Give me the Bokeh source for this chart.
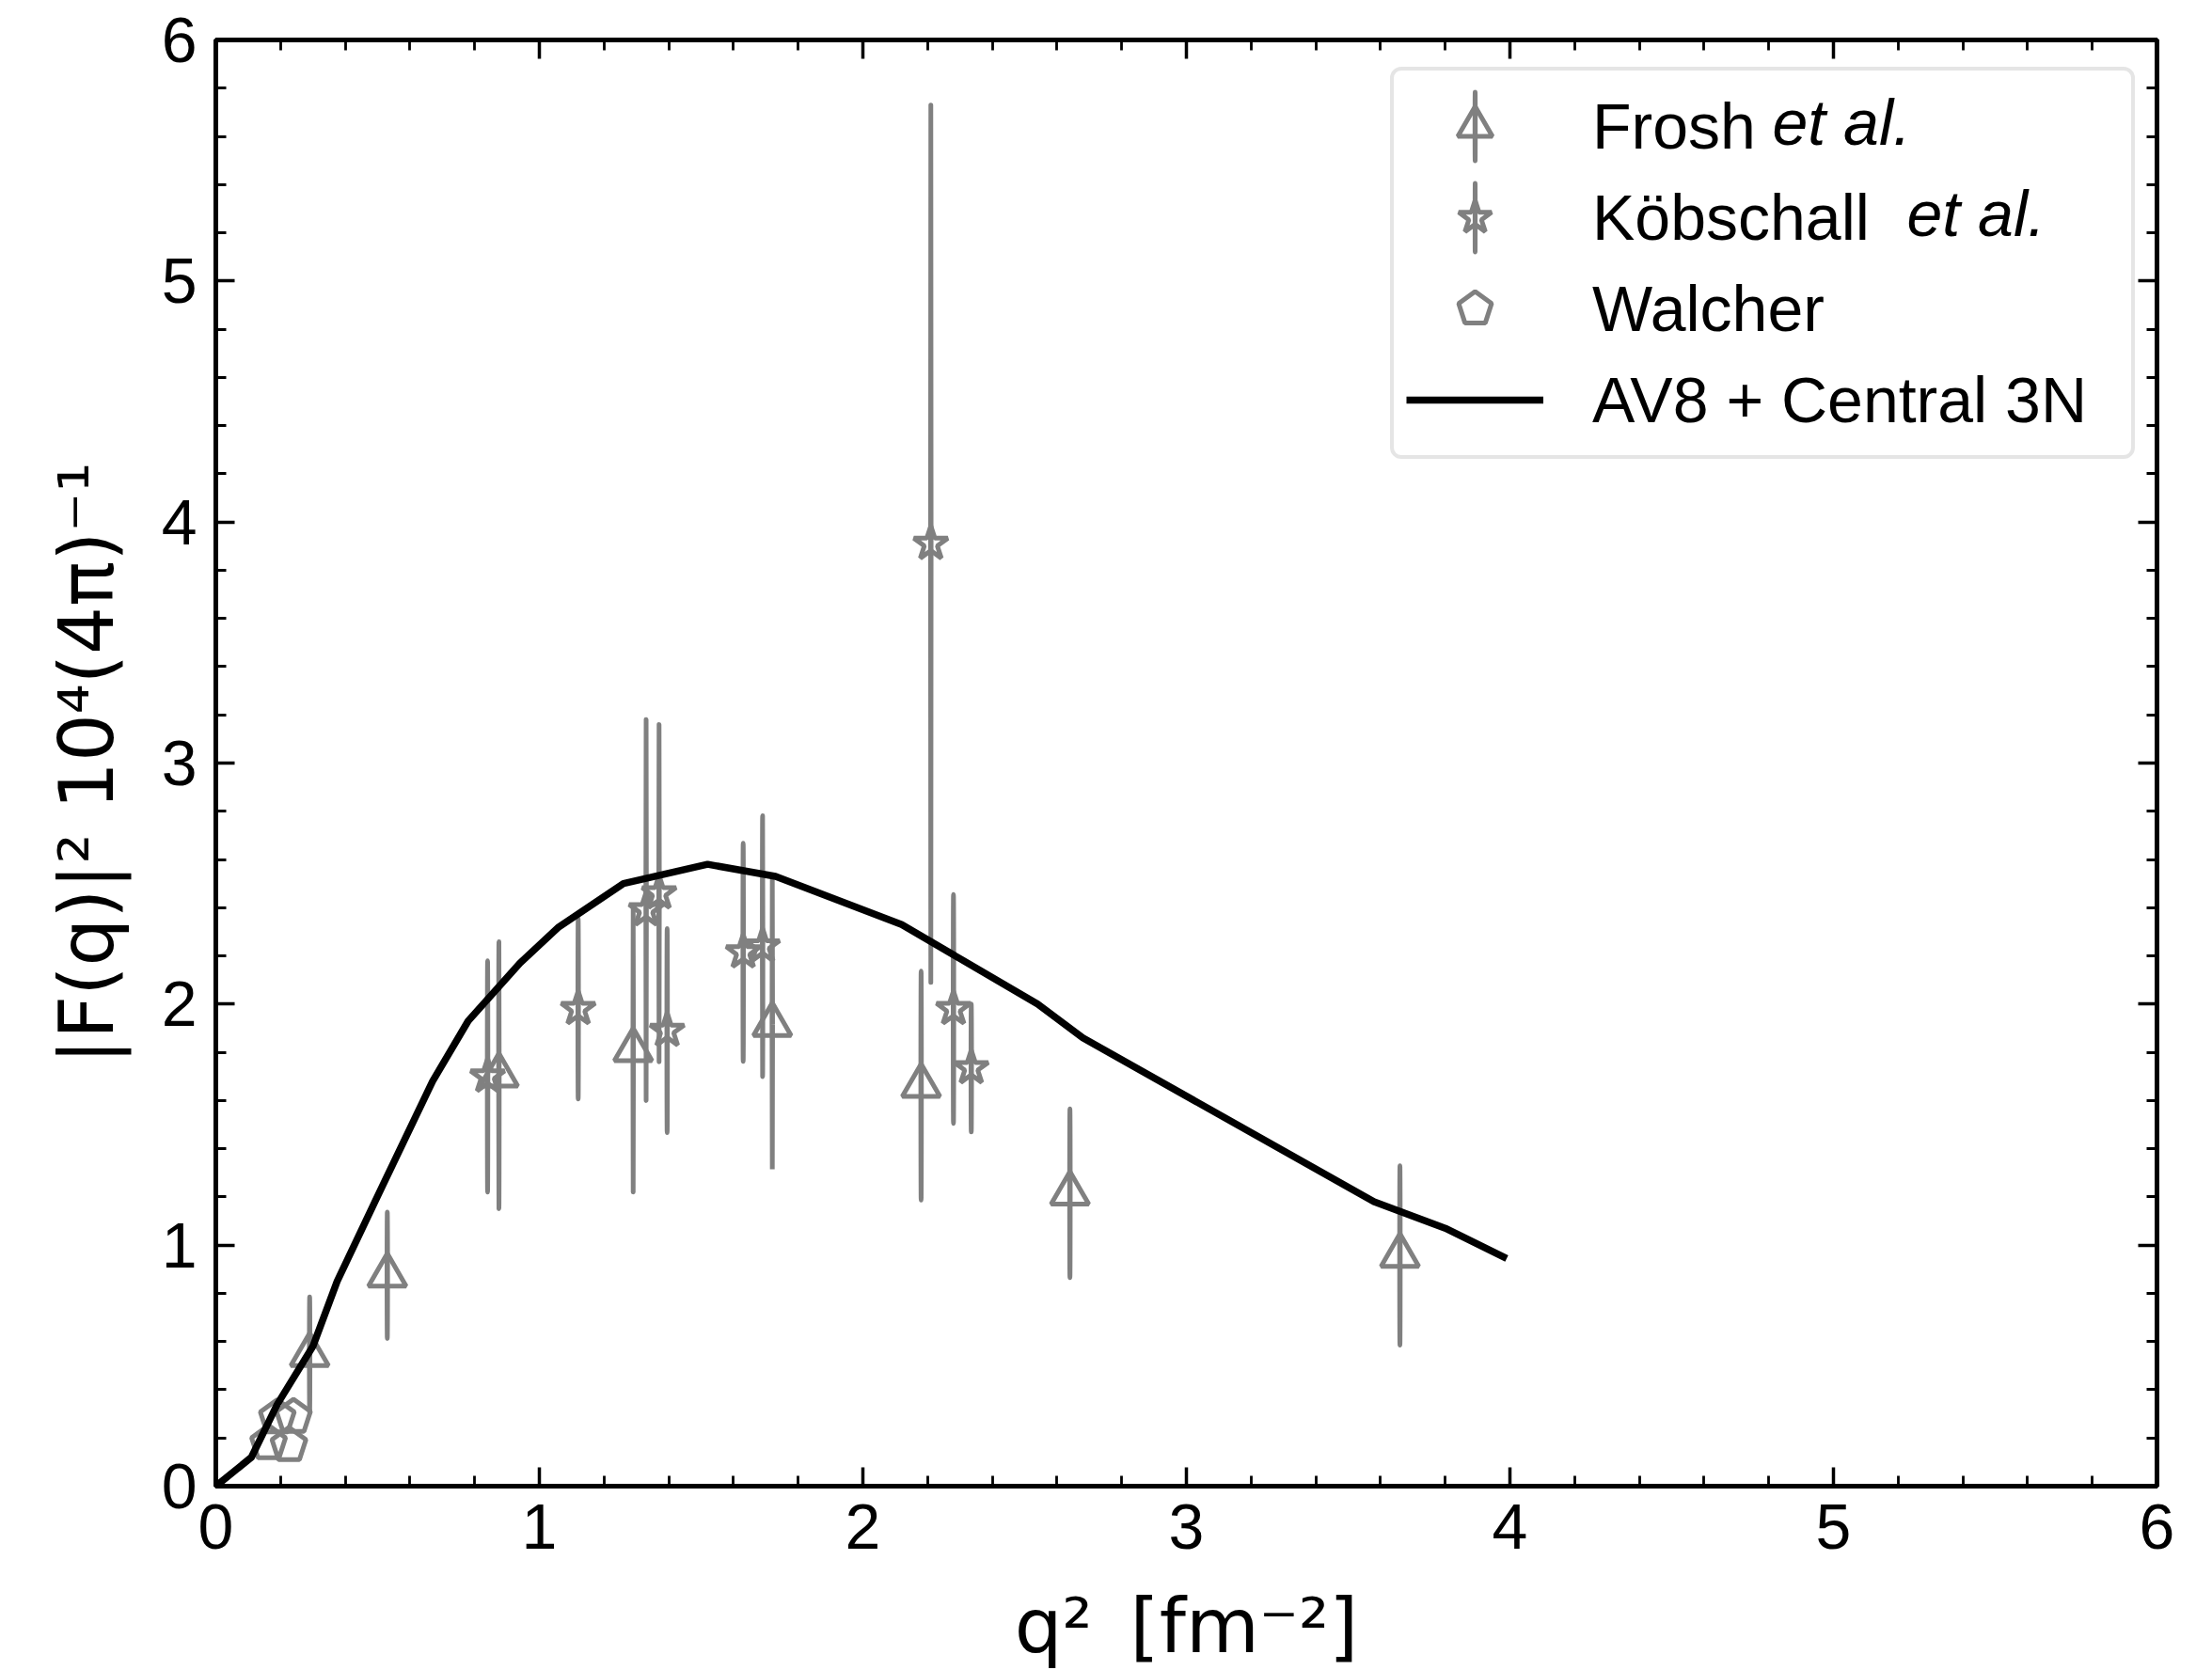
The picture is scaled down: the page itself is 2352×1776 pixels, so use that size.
import math
from bokeh.plotting import figure
from bokeh.models import (Range1d, FixedTicker, LinearAxis, Legend, LegendItem,
                          Label, ColumnDataSource)
from bokeh.embed import file_html
from bokeh.resources import INLINE

# ---------------- data ----------------
frosh_q2 = [0.29, 0.53, 0.875, 1.29, 1.72, 2.18, 2.64, 3.66]
frosh_F = [0.545, 0.875, 1.705, 1.81, 1.915, 1.662, 1.215, 0.957]
frosh_err = [0.24, 0.265, 0.56, 0.59, 0.60, 0.475, 0.35, 0.372]

kob_q2 = [0.84, 1.12, 1.33, 1.37, 1.395, 1.63, 1.69, 2.21, 2.28, 2.335]
kob_F = [1.70, 1.98, 2.39, 2.46, 1.89, 2.215, 2.24, 3.91, 1.98, 1.735]
kob_err = [0.485, 0.38, 0.79, 0.70, 0.43, 0.46, 0.55, 1.82, 0.475, 0.265]

walcher_q2 = [0.163, 0.19, 0.226, 0.24]
walcher_F = [0.178, 0.285, 0.17, 0.287]

av8_q2 = [0, 0.11, 0.19, 0.30, 0.375, 0.52, 0.67, 0.78, 0.94, 1.06, 1.26,
          1.52, 1.73, 2.12, 2.54, 2.68, 3.58, 3.80, 3.99]
av8_F = [0, 0.12, 0.34, 0.58, 0.85, 1.26, 1.68, 1.93, 2.17, 2.32, 2.50,
         2.58, 2.53, 2.33, 2.00, 1.86, 1.18, 1.07, 0.945]

x_ticks = [0, 1, 2, 3, 4, 5, 6]
y_ticks = [0, 1, 2, 3, 4, 5, 6]
x_tick_labels = ["0", "1", "2", "3", "4", "5", "6"]
y_tick_labels = ["0", "1", "2", "3", "4", "5", "6"]
minor_ticks = [i / 5 for i in range(31)]

x_title = "q²\u2002[fm⁻²]"
y_title = "|F(q)|² 10⁴(4π)⁻¹"
legend_labels = ["Frosh", "Köbschall", "Walcher", "AV8 + Central 3N"]
legend_italic = ["et al.", "et al.", None, None]

GRAY = "#808080"
TICK_FONT = "Liberation Sans"
TITLE_FONT = "DejaVu Sans"

# ---------------- figure ----------------
p = figure(frame_width=2064, frame_height=1538,
           x_range=Range1d(0, 6), y_range=Range1d(0, 6),
           output_backend="svg", toolbar_location=None,
           min_border_left=229, min_border_right=59,
           min_border_top=42, min_border_bottom=196,
           background_fill_color="white", border_fill_color="white")
p.grid.visible = False
p.outline_line_color = "black"
p.outline_line_width = 5


def style_axis(ax, ticks, labels, show, standoff):
    ax.ticker = FixedTicker(ticks=ticks, minor_ticks=minor_ticks)
    ax.axis_line_width = 5
    ax.axis_line_color = "black"
    ax.major_tick_in = 20
    ax.major_tick_out = 0
    ax.minor_tick_in = 11
    ax.minor_tick_out = 0
    ax.major_tick_line_width = 3.5
    ax.minor_tick_line_width = 2.8
    ax.major_tick_line_color = "black"
    ax.minor_tick_line_color = "black"
    if show:
        ax.major_label_overrides = {t: l for t, l in zip(ticks, labels)}
        ax.major_label_text_font = TICK_FONT
        ax.major_label_text_font_size = "68px"
        ax.major_label_text_color = "black"
        ax.major_label_standoff = standoff
    else:
        ax.axis_label = None
        ax.major_label_overrides = {t: "" for t in ticks}
        ax.major_label_text_font_size = "0px"
        ax.major_label_standoff = 0


def style_title(ax, text, standoff):
    ax.axis_label = text
    ax.axis_label_text_font = TITLE_FONT
    ax.axis_label_text_font_size = "80px"
    ax.axis_label_text_font_style = "normal"
    ax.axis_label_text_color = "black"
    ax.axis_label_standoff = standoff


style_axis(p.xaxis[0], x_ticks, x_tick_labels, True, 19)
style_axis(p.yaxis[0], y_ticks, y_tick_labels, True, 20)
style_title(p.xaxis[0], x_title, 33)
style_title(p.yaxis[0], y_title, 30)

ax_top = LinearAxis()
style_axis(ax_top, x_ticks, x_tick_labels, False, 0)
p.add_layout(ax_top, "above")
ax_right = LinearAxis()
style_axis(ax_right, y_ticks, y_tick_labels, False, 0)
p.add_layout(ax_right, "right")

# ---------------- data glyphs ----------------
fsrc = ColumnDataSource(dict(x=frosh_q2, y=frosh_F, h=[2 * e for e in frosh_err]))
ksrc = ColumnDataSource(dict(x=kob_q2, y=kob_F, h=[2 * e for e in kob_err]))
wsrc = ColumnDataSource(dict(x=walcher_q2, y=walcher_F))

LW = 5
bar_kw = dict(width=0.6, width_units="screen", height="h", height_units="data",
              fill_color=None, line_color=GRAY, line_width=LW)
r_fbar = p.ellipse(x="x", y="y", source=fsrc, **bar_kw)
r_fm = p.scatter(x="x", y="y", source=fsrc, marker="triangle", size=40,
                 fill_color=None, line_color=GRAY, line_width=LW)
r_kbar = p.ellipse(x="x", y="y", source=ksrc, **bar_kw)
r_km = p.scatter(x="x", y="y", source=ksrc, marker="star", size=38,
                 fill_color=None, line_color=GRAY, line_width=LW)
r_w = p.ngon(x="x", y="y", source=wsrc, radius=19, radius_units="screen", n=5,
             fill_color=None, line_color=GRAY, line_width=LW)
r_av8 = p.line(av8_q2, av8_F, line_color="black", line_width=7.5, line_join="round")

# ---------------- legend ----------------
PAD, GH, GW, SP, STANDOFF = 13, 92, 146, 5, 52
LX, LY = 1249, 1092
legend = Legend(items=[
    LegendItem(label=legend_labels[0], renderers=[r_fbar, r_fm]),
    LegendItem(label=legend_labels[1], renderers=[r_kbar, r_km]),
    LegendItem(label=legend_labels[2], renderers=[r_w]),
    LegendItem(label=legend_labels[3], renderers=[r_av8]),
], location=(LX, LY))
legend.glyph_width = GW
legend.glyph_height = GH
legend.label_standoff = STANDOFF
legend.spacing = SP
legend.padding = PAD
legend.label_width = 560
legend.label_text_font = TICK_FONT
legend.label_text_font_size = "68px"
legend.label_text_color = "black"
legend.border_line_color = "#cccccc"
legend.border_line_width = 4
legend.border_radius = 12
legend.background_fill_color = None
p.add_layout(legend)

n_items = 4
leg_h = 2 * PAD + n_items * GH + (n_items - 1) * SP
leg_top = LY + leg_h
label_x0 = LX + PAD + GW + STANDOFF
italic_offsets = [195, 338]
for k, txt in enumerate(legend_italic):
    if txt is None:
        continue
    cy = leg_top - PAD - GH / 2 - k * (GH + SP) + 9
    p.add_layout(Label(x=label_x0 + italic_offsets[k], y=cy, x_units="screen",
                       y_units="screen", text=txt, text_font=TICK_FONT,
                       text_font_size="68px", text_font_style="italic",
                       text_baseline="middle", text_align="left",
                       text_color="black", level="overlay"))

open("out.html", "w").write(file_html(p, INLINE))
